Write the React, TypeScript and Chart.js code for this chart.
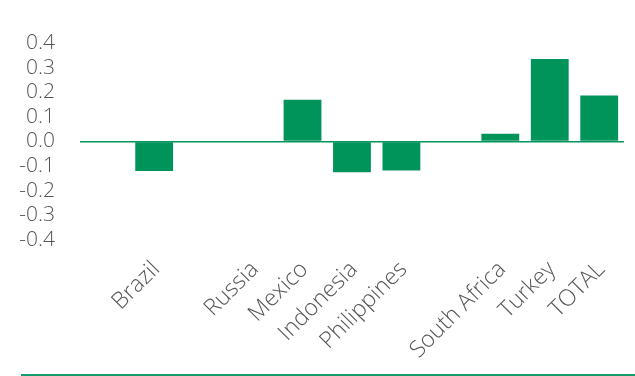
import React, { useEffect, useRef } from "react";
import { Chart, registerables } from "chart.js";

Chart.register(...registerables);

const categories: string[] = ["", "Brazil", "", "Russia", "Mexico", "Indonesia", "Philippines", "", "South Africa", "Turkey", "TOTAL"];
const values: (number | null)[] = [null, -0.12, null, 0, 0.17, -0.125, -0.118, null, 0.031, 0.335, 0.187];
const yMin = -0.4;
const yMax = 0.4;
const yStep = 0.1;

const GREEN = "#00945a";
const TEXT = "#555555";
const FONT = "'Open Sans', 'Liberation Sans', sans-serif";

export default function App() {
  const ref = useRef<HTMLCanvasElement | null>(null);
  useEffect(() => {
    document.body.style.margin = "0";
    const ctx = ref.current!;
    const chart = new Chart(ctx, {
      type: "bar",
      data: {
        labels: categories,
        datasets: [
          {
            data: values,
            backgroundColor: GREEN,
            borderWidth: 0,
            barPercentage: 0.765,
            categoryPercentage: 1,
          },
        ],
      },
      options: {
        animation: false,
        responsive: false,
        maintainAspectRatio: false,
        layout: { padding: { top: 43, left: 0, right: 6, bottom: 0 } },
        plugins: { legend: { display: false }, tooltip: { enabled: false } },
        scales: {
          x: {
            grid: { display: false, drawTicks: false },
            border: { display: false },
            afterFit: (s: any) => {
              s.height = 136;
            },
            ticks: {
              autoSkip: false,
              minRotation: 45,
              maxRotation: 45,
              padding: 16,
              labelOffset: 2,
              color: TEXT,
              font: { family: FONT, size: 23, weight: "300" as any },
            },
          },
          y: {
            min: yMin,
            max: yMax,
            afterFit: (s: any) => {
              s.width = 80;
            },
            grid: {
              drawTicks: false,
              lineWidth: 1.5,
              color: (c: any) => (c.tick && Math.abs(c.tick.value) < 1e-9 ? GREEN : "rgba(0,0,0,0)"),
            },
            border: { display: false },
            ticks: {
              stepSize: yStep,
              autoSkip: false,
              padding: 25,
              color: TEXT,
              font: { family: FONT, size: 21, weight: "300" as any },
              callback: (v: any) => Number(v).toFixed(1),
            },
          },
        },
      },
    });
    return () => chart.destroy();
  }, []);
  return (
    <div style={{ position: "fixed", left: 0, top: 0, width: 635, height: 376, background: "#fff" }}>
      <canvas ref={ref} width={635} height={376} style={{ width: 635, height: 376, display: "block" }} />
      <div style={{ position: "absolute", left: 21, right: 0, top: 374, height: 2, background: "#139b6a" }} />
    </div>
  );
}
